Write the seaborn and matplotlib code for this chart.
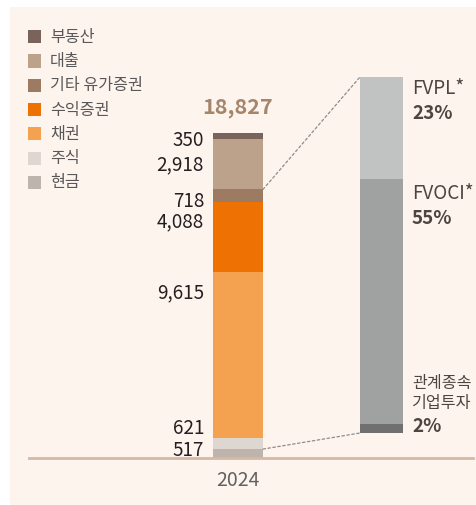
import matplotlib
matplotlib.use("Agg")
import matplotlib.pyplot as plt
from matplotlib.patches import Rectangle, ConnectionPatch
import numpy as np
import pandas as pd
import seaborn as sns

# ---- data -------------------------------------------------------------
year = "2024"

# asset mix, listed top of the stack first
asset_names = ["부동산", "대출", "기타 유가증권", "수익증권", "채권", "주식", "현금"]
asset_values = [350, 2918, 718, 4088, 9615, 621, 517]
asset_colors = ["#7a635b", "#bca18b", "#9d7b62", "#ee7203", "#f4a24f", "#ded6d1", "#bfb4ab"]

# breakdown of the securities block, listed top first
sec_names = ["FVPL*", "FVOCI*", "관계종속\n기업투자"]
sec_shares = [23, 55, 2]
sec_colors = ["#c1c3c2", "#a0a2a1", "#707070"]

# ---- style ------------------------------------------------------------
sns.set_style("white")
plt.rcParams["font.family"] = ["Noto Sans CJK KR", "DejaVu Sans"]

W, H = 476, 505
fig = plt.figure(figsize=(W / 100, H / 100), dpi=100, facecolor="white")

CREAM = "#fdf4ee"
fig.add_artist(Rectangle((10 / W, 0), (W - 10) / W, 1 - 7 / H,
                         transform=fig.transFigure, facecolor=CREAM,
                         edgecolor="none", zorder=-10))

NUM_FS = 13.6
KOR_FS = 11.6


def px_axes(x0, y0, x1, y1):
    """Axes placed by pixel box (top-left origin)."""
    return fig.add_axes([x0 / W, 1 - y1 / H, (x1 - x0) / W, (y1 - y0) / H])


# ---- main stacked bar -------------------------------------------------
ax1 = px_axes(29, 133, 473, 458)
ax1.set_facecolor("none")

vals_bottom_up = asset_values[::-1]
cols_bottom_up = asset_colors[::-1]
cum_tops = np.cumsum(vals_bottom_up)
total = int(cum_tops[-1])

# draw cumulative totals from the tallest down so each layer shows its slice
for top, col in sorted(zip(cum_tops, cols_bottom_up), key=lambda t: -t[0]):
    sns.barplot(x=[year], y=[top], color=col, saturation=1, width=1,
                linewidth=0, ax=ax1)

ax1.set_ylim(0, total)
ax1.set_xlim(-(238 - 29) / 50, (473 - 238) / 50)
for s in ["top", "left", "right"]:
    ax1.spines[s].set_visible(False)
ax1.spines["bottom"].set_color("#d5b9a6")
ax1.spines["bottom"].set_linewidth(2)
ax1.set_yticks([])
ax1.set_ylabel("")
ax1.set_xlabel("")
ax1.tick_params(axis="x", length=0, pad=8.5, labelsize=14, labelcolor="#616161")

# value labels left of the bar (offsets in pixels from slice centre)
label_dy = [-2.5, 1, -3.4, 17, 65, 17, 5]
cum_bottoms = np.concatenate([[0], cum_tops[:-1]])
centers_top_first = ((cum_tops + cum_bottoms) / 2)[::-1]
for v, c, dy in zip(asset_values, centers_top_first, label_dy):
    ax1.annotate(f"{v:,}", xy=(-0.5, c), xytext=(-9, dy - 2),
                 textcoords="offset pixels", ha="right", va="center",
                 fontsize=NUM_FS, color="#231f20")

ax1.annotate(f"{total:,}", xy=(0, total), xytext=(0, 25),
             textcoords="offset pixels", ha="center", va="center",
             fontsize=15.5, fontweight="bold", color="#a6866a")

# ---- securities breakdown bar ----------------------------------------
ax2 = px_axes(360, 77, 403, 433)
ax2.set_facecolor("none")
sec_bottom_up = sec_shares[::-1]
sec_cols_bottom_up = sec_colors[::-1]
sec_cum = np.cumsum(sec_bottom_up)
sec_total = int(sec_cum[-1])
for top, col in sorted(zip(sec_cum, sec_cols_bottom_up), key=lambda t: -t[0]):
    sns.barplot(x=[year], y=[top], color=col, saturation=1, width=1,
                linewidth=0, ax=ax2)
ax2.set_ylim(0, sec_total)
ax2.set_xlim(-0.5, 0.5)
ax2.axis("off")

sec_tops_top_first = sec_cum[::-1]
LBL = "#4e4440"
# FVPL / FVOCI: name then share below the slice top
for name, share, top, dn in zip(sec_names[:2], sec_shares[:2],
                                sec_tops_top_first[:2], [11.5, 14.5]):
    ax2.annotate(name, xy=(0.5, top), xytext=(9, -dn),
                 textcoords="offset pixels", ha="left", va="center",
                 fontsize=NUM_FS, color=LBL)
    ax2.annotate(f"{share}%", xy=(0.5, top), xytext=(9, -dn - 25),
                 textcoords="offset pixels", ha="left", va="center",
                 fontsize=NUM_FS, fontweight="bold", color=LBL)

# associates: two-line name stacked above the share
assoc_lines = sec_names[2].split("\n")
mid = sec_shares[2] / 2
for line, up in zip(assoc_lines, [45.5, 25.5]):
    ax2.annotate(line, xy=(0.5, mid), xytext=(9, up),
                 textcoords="offset pixels", ha="left", va="center",
                 fontsize=KOR_FS, color=LBL)
ax2.annotate(f"{sec_shares[2]}%", xy=(0.5, mid), xytext=(9, 2.5),
             textcoords="offset pixels", ha="left", va="center",
             fontsize=NUM_FS, fontweight="bold", color=LBL)

# dashed connectors from the securities block to the breakdown bar
sec_block_top = float(np.sum(asset_values[2:]))
sec_block_bottom = float(asset_values[-1])
for ya, yb in [(sec_block_top, sec_total), (sec_block_bottom, 0)]:
    con = ConnectionPatch(xyA=(0.5, ya), coordsA=ax1.transData,
                          xyB=(-0.5, yb), coordsB=ax2.transData,
                          linestyle=(0, (2, 2)), color="#8c8c8c", lw=0.9)
    fig.add_artist(con)

# ---- legend -----------------------------------------------------------
for i, (name, col) in enumerate(zip(asset_names, asset_colors)):
    yc = 36.7 + 24.3 * i
    fig.add_artist(Rectangle((28 / W, 1 - (yc + 6.5) / H), 13 / W, 13 / H,
                             transform=fig.transFigure, facecolor=col,
                             edgecolor="none"))
    fig.text(50 / W, 1 - (yc + 0.5) / H, name, ha="left", va="center",
             fontsize=KOR_FS, color="#595757")

fig.savefig("out.png", dpi=100, facecolor="white")
